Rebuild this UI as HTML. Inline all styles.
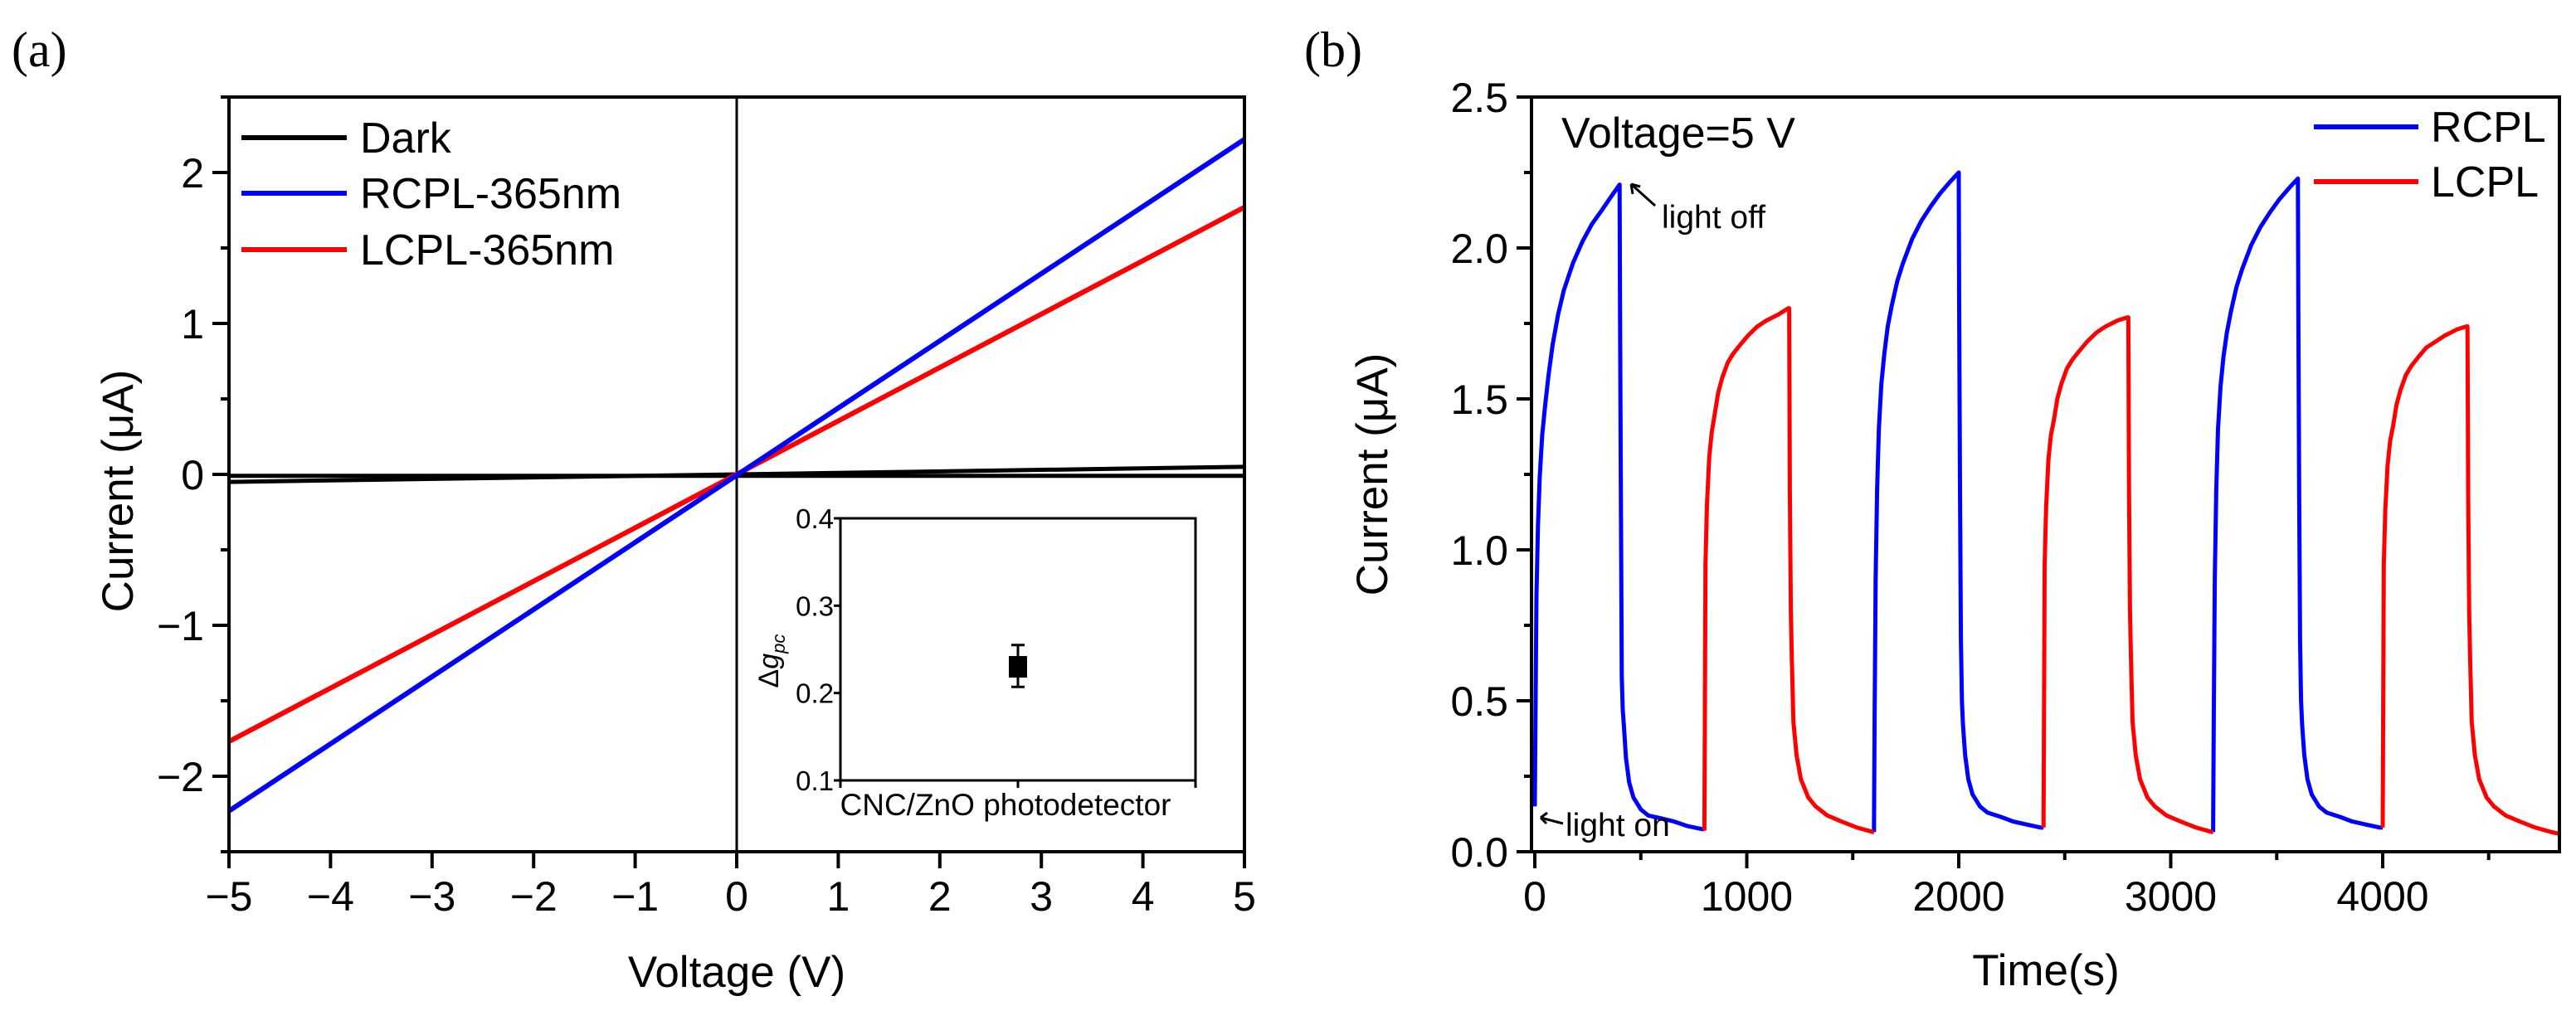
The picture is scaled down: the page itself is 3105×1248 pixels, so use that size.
<!DOCTYPE html>
<html><head><meta charset="utf-8"><style>
html,body{margin:0;padding:0;background:#fff;}
svg{display:block;font-family:"Liberation Sans",Arial,sans-serif;}
</style></head><body>
<svg id="fig" width="3105" height="1248" viewBox="0 0 3105 1248" xmlns="http://www.w3.org/2000/svg">
<text x="14" y="80" font-family="Liberation Serif,serif" font-size="60">(a)</text>
<text x="1572" y="80" font-family="Liberation Serif,serif" font-size="60">(b)</text>
<g id="pa"></g>
<g id="inset"></g>
<g id="pb"></g>
</svg>
<script>
// ---- Panel (a) data ----
const aXTicks = [-5,-4,-3,-2,-1,0,1,2,3,4,5];
const aYTicks = [-2,-1,0,1,2];
const aYTickLabels = ["\u22122","\u22121","0","1","2"];
const aXTickLabels = ["\u22125","\u22124","\u22123","\u22122","\u22121","0","1","2","3","4","5"];
const darkV1 = [-5, 5];
const darkI1 = [-0.05, 0.05];
const darkV2 = [-5, 5];
const darkI2 = [-0.01, -0.01];
const rcplV = [-5, 5];
const rcplI = [-2.23, 2.22];
const lcplV = [-5, 5];
const lcplI = [-1.77, 1.77];
// ---- Inset data ----
const insetYTicks = [0.1,0.2,0.3,0.4];
const insetValue = [0.23];
const insetErrLow = [0.207];
const insetErrHigh = [0.255];
// ---- Panel (b) data ----
const bXTicks = [0,1000,2000,3000,4000];
const bYTicks = [0.0,0.5,1.0,1.5,2.0,2.5];
const bYTickLabels = ["0.0","0.5","1.0","1.5","2.0","2.5"];
const rcplT = [0,3,8,15,23,35,49,65,84,110,137,180,224,270,311,360,400,
  402,406,410,415,420,430,445,465,500,535,600,657,720,788,800,
  null,
  1600,1603,1608,1615,1623,1635,1649,1665,1684,1710,1737,1780,1824,1870,1911,1960,2000,
  2002,2006,2010,2015,2020,2030,2045,2065,2100,2135,2200,2257,2320,2388,2400,
  null,
  3200,3203,3208,3215,3223,3235,3249,3265,3284,3310,3337,3380,3424,3470,3511,3560,3600,
  3602,3606,3610,3615,3620,3630,3645,3665,3700,3735,3800,3857,3920,3988,4000];
const rcplC = [0.15,0.45,0.85,1.08,1.24,1.38,1.48,1.58,1.68,1.78,1.86,1.95,2.02,2.08,2.12,2.17,2.21,
  1.8,1.2,0.58,0.47,0.42,0.31,0.23,0.18,0.14,0.12,0.11,0.10,0.085,0.075,0.075,
  null,
  0.065,0.45,0.9,1.2,1.4,1.55,1.65,1.74,1.81,1.89,1.95,2.03,2.09,2.14,2.18,2.22,2.25,
  1.8,1.2,0.7,0.5,0.42,0.32,0.24,0.19,0.15,0.13,0.115,0.10,0.09,0.08,0.08,
  null,
  0.065,0.45,0.9,1.2,1.4,1.54,1.64,1.72,1.79,1.87,1.93,2.01,2.07,2.12,2.16,2.20,2.23,
  1.8,1.2,0.7,0.5,0.42,0.32,0.24,0.19,0.15,0.13,0.115,0.10,0.09,0.08,0.08];
const lcplT = [800,803,805,812,823,835,849,865,884,910,936,970,1006,1050,1093,1150,1195,1200,
  1203,1208,1212,1220,1235,1255,1290,1325,1380,1447,1520,1596,1600,
  null,
  2400,2403,2405,2412,2423,2435,2449,2465,2484,2510,2536,2570,2606,2650,2693,2750,2795,2800,
  2803,2808,2812,2820,2835,2855,2890,2925,2980,3047,3120,3196,3200,
  null,
  4000,4003,4005,4012,4023,4035,4049,4065,4084,4110,4136,4170,4206,4250,4293,4350,4395,4400,
  4403,4408,4412,4420,4435,4455,4490,4525,4580,4647,4720,4796,4830];
const lcplC = [0.07,0.6,0.95,1.15,1.31,1.39,1.45,1.52,1.57,1.62,1.65,1.68,1.71,1.74,1.76,1.78,1.80,1.80,
  1.2,0.8,0.65,0.43,0.32,0.24,0.18,0.15,0.12,0.10,0.08,0.065,0.065,
  null,
  0.08,0.6,0.95,1.14,1.30,1.38,1.43,1.50,1.55,1.60,1.63,1.66,1.69,1.72,1.74,1.76,1.77,1.77,
  1.2,0.8,0.65,0.43,0.32,0.24,0.18,0.15,0.12,0.10,0.08,0.065,0.065,
  null,
  0.08,0.6,0.95,1.13,1.28,1.36,1.41,1.48,1.53,1.58,1.61,1.64,1.67,1.69,1.71,1.73,1.74,1.74,
  1.2,0.8,0.65,0.43,0.32,0.24,0.18,0.15,0.12,0.10,0.08,0.065,0.06];

const NS="http://www.w3.org/2000/svg";
function mk(parent, tag, attrs){const e=document.createElementNS(NS,tag);for(const k in attrs)e.setAttribute(k,attrs[k]);parent.appendChild(e);return e;}
function txt(parent, x, y, s, size, anchor){const t=mk(parent,'text',{x:x,y:y,'font-size':size,'text-anchor':anchor||'middle'});t.textContent=s;return t;}
function pathFrom(xs, ys, fx, fy){let d='',pen=false;for(let i=0;i<xs.length;i++){if(xs[i]===null||ys[i]===null){pen=false;continue;}d+=(pen?'L':'M')+fx(xs[i]).toFixed(1)+' '+fy(ys[i]).toFixed(1);pen=true;}return d;}

// ===== Panel A =====
const pa=document.getElementById('pa');
const aL=276,aR=1500,aT=117,aB=1027;
const ax=v=>aL+(v+5)/10*(aR-aL);
const ay=v=>aB-(v+2.5)/5*(aB-aT);
const zl=mk(pa,'line',{x1:ax(0),x2:ax(0),y1:aT,y2:aB,stroke:'#000','stroke-width':3});


let p;
p=mk(pa,'path',{d:pathFrom(darkV1,darkI1,ax,ay),stroke:'#000','stroke-width':5,fill:'none'});


p=mk(pa,'path',{d:pathFrom(darkV2,darkI2,ax,ay),stroke:'#000','stroke-width':5,fill:'none'});


p=mk(pa,'path',{d:pathFrom(lcplV,lcplI,ax,ay),stroke:'#ff0000','stroke-width':6,fill:'none'});


p=mk(pa,'path',{d:pathFrom(rcplV,rcplI,ax,ay),stroke:'#0000ff','stroke-width':6,fill:'none'});


const fa=mk(pa,'rect',{x:aL,y:aT,width:aR-aL,height:aB-aT,fill:'none',stroke:'#000','stroke-width':4});


aXTicks.forEach((v,i)=>{
  const t=mk(pa,'line',{x1:ax(v),x2:ax(v),y1:aB,y2:aB+20,stroke:'#000','stroke-width':4});
  
  
  const l=txt(pa,ax(v),1098,aXTickLabels[i],50);
  
  
});
for(let v=-2.5;v<=2.5;v+=0.5){
  const maj=aYTicks.includes(v);
  const t=mk(pa,'line',{x1:aL-(maj?20:10),x2:aL,y1:ay(v),y2:ay(v),stroke:'#000','stroke-width':4});
  
  
}
aYTicks.forEach((v,i)=>{
  const l=txt(pa,246,ay(v)+18,aYTickLabels[i],50,'end');
  
  
});
let tt=txt(pa,888,1190,'Voltage (V)',53);


tt=txt(pa,0,0,'Current (\u03bcA)',53);
tt.setAttribute('transform','translate(160,592) rotate(-90)');


const legA=[['Dark','#000',166],['RCPL-365nm','#0000ff',233],['LCPL-365nm','#ff0000',301]];
legA.forEach(e=>{
  const ln=mk(pa,'line',{x1:291,x2:418,y1:e[2],y2:e[2],stroke:e[1],'stroke-width':6});
  
  
  const l=txt(pa,434,e[2]+18,e[0],52,'start');
  
  
});

// ===== Inset =====
const ins=document.getElementById('inset');
const iL=1013,iR=1441,iT=625,iB=941;
const iy=v=>iB-(v-0.1)/0.3*(iB-iT);
const ir=mk(ins,'rect',{x:iL,y:iT,width:iR-iL,height:iB-iT,fill:'#fff',stroke:'#000','stroke-width':3});


insetYTicks.forEach(v=>{
  const t=mk(ins,'line',{x1:iL-8,x2:iL,y1:iy(v),y2:iy(v),stroke:'#000','stroke-width':3});
  
  
  const l=txt(ins,iL-8,iy(v)+12,v.toFixed(1),33,'end');
  
  
});
[iL,(iL+iR)/2,iR].forEach(x=>{
  const t=mk(ins,'line',{x1:x,x2:x,y1:iB,y2:iB+9,stroke:'#000','stroke-width':3});
  
  
});
const cx=(iL+iR)/2;
const eb=mk(ins,'path',{d:`M${cx} ${iy(insetErrHigh[0])}V${iy(insetErrLow[0])}M${cx-8} ${iy(insetErrHigh[0])}H${cx+8}M${cx-8} ${iy(insetErrLow[0])}H${cx+8}`,stroke:'#000','stroke-width':3,fill:'none'});


const pt=mk(ins,'rect',{x:cx-11,y:iy(insetValue[0])-13,width:22,height:26,fill:'#000'});


tt=txt(ins,1212,983,'CNC/ZnO photodetector',37);


tt=mk(ins,'text',{transform:'translate(938,797) rotate(-90)','font-size':34,'text-anchor':'middle'});
tt.innerHTML='\u0394<tspan font-style="italic">g</tspan><tspan font-style="italic" font-size="22" dy="8">pc</tspan>';



// ===== Panel B =====
const pb=document.getElementById('pb');
const bL=1846,bR=3085,bT=117,bB=1027;
const bx=v=>1850+v*0.2555;
const by=v=>bB-v/2.5*(bB-bT);
p=mk(pb,'path',{d:pathFrom(rcplT,rcplC,bx,by),stroke:'#0000ff','stroke-width':5,fill:'none','stroke-linejoin':'round'});


p=mk(pb,'path',{d:pathFrom(lcplT,lcplC,bx,by),stroke:'#ff0000','stroke-width':5,fill:'none','stroke-linejoin':'round'});


const fb=mk(pb,'rect',{x:bL,y:bT,width:bR-bL,height:bB-bT,fill:'none',stroke:'#000','stroke-width':4});


for(let v=0;v<=4500;v+=500){
  const maj=v%1000===0;
  const t=mk(pb,'line',{x1:bx(v),x2:bx(v),y1:bB,y2:bB+(maj?20:10),stroke:'#000','stroke-width':4});
  
  
}
bXTicks.forEach(v=>{
  const l=txt(pb,bx(v),1098,String(v),50);
  
  
});
for(let v=0;v<=2.5;v+=0.25){
  const maj=Math.abs(v*2-Math.round(v*2))<1e-6;
  const t=mk(pb,'line',{x1:bL-(maj?18:9),x2:bL,y1:by(v),y2:by(v),stroke:'#000','stroke-width':4});
  
  
}
bYTicks.forEach((v,i)=>{
  const l=txt(pb,1818,by(v)+18,bYTickLabels[i],50,'end');
  
  
});
tt=txt(pb,2466,1188,'Time(s)',53);


tt=txt(pb,0,0,'Current (\u03bcA)',53);
tt.setAttribute('transform','translate(1672,572) rotate(-90)');


tt=txt(pb,1882,178,'Voltage=5 V',52,'start');


const legB=[['RCPL','#0000ff',153],['LCPL','#ff0000',219]];
legB.forEach(e=>{
  const ln=mk(pb,'line',{x1:2789,x2:2915,y1:e[2],y2:e[2],stroke:e[1],'stroke-width':6});
  
  
  const l=txt(pb,2930,e[2]+18,e[0],52,'start');
  
  
});
tt=txt(pb,2003,275,'light off',39,'start');


let ar=mk(pb,'path',{d:'M1995 248L1966 222M1966 222l2 12M1966 222l11 3',stroke:'#000','stroke-width':3,fill:'none'});


tt=txt(pb,1887,1008,'light on',39,'start');


ar=mk(pb,'path',{d:'M1884 993L1857 986M1857 986l8 -6M1857 986l7 7',stroke:'#000','stroke-width':3,fill:'none'});


</script>
</body></html>
